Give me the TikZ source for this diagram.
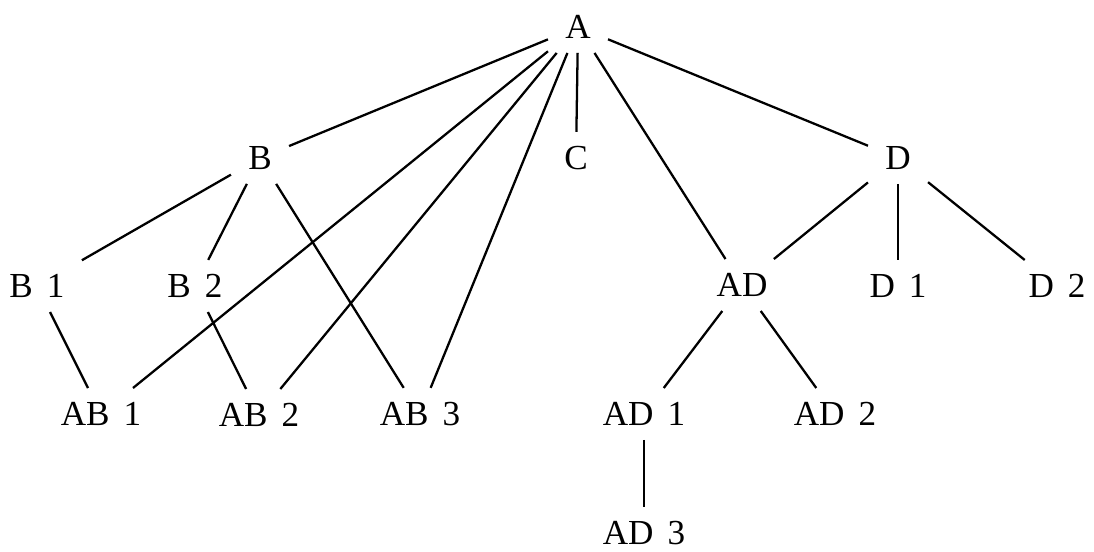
\documentclass[tikz,border=0pt]{standalone}
\usepackage{fontspec}
\setmainfont{Liberation Serif}
\usepackage{tikz}
\newcommand{\labelgap}{\hspace{0.4em}}

\begin{document}
\begin{tikzpicture}[
    x=0.02cm, y=-0.02cm,
    entry/.style={rectangle, inner xsep=0.34cm, inner ysep=0.28cm, font=\fontsize{20}{24}\selectfont},
    link/.style={line width=1.3pt}
]
\useasboundingbox (0,0) rectangle (1094,551);

% Nodes
\node (A) [entry] at (578,27) {A};

\node (B) [entry] at (260,158) {B};
\node (C) [entry] at (576,158) {C};
\node (D) [entry] at (898,158) {D};

\node (B1) [entry] at (37,286) {B\labelgap 1};
\node (B2) [entry] at (195,286) {B\labelgap 2};
\node (AD) [entry] at (742,285) {AD};
\node (D1) [entry] at (898,286) {D\labelgap 1};
\node (D2) [entry] at (1057,286) {D\labelgap 2};

\node (AB1) [entry] at (101,414) {AB\labelgap 1};
\node (AB2) [entry] at (259,415) {AB\labelgap 2};
\node (AB3) [entry] at (420,414) {AB\labelgap 3};
\node (AD1) [entry] at (644,414) {AD\labelgap 1};
\node (AD2) [entry] at (835,414) {AD\labelgap 2};

\node (AD3) [entry] at (644,533) {AD\labelgap 3};

% Lines
\draw [link] (A) -- (B);
\draw [link] (A) -- (AB1);
\draw [link] (A) -- (AB2);
\draw [link] (A) -- (AB3);
\draw [link] (A) -- (C);
\draw [link] (A) -- (AD);
\draw [link] (A) -- (D);

\draw [link] (B) -- (B1);
\draw [link] (B) -- (B2);
\draw [link] (B) -- (AB3);
\draw [link] (B1) -- (AB1);
\draw [link] (B2) -- (AB2);

\draw [link] (D) -- (AD);
\draw [link] (D) -- (D1);
\draw [link] (D) -- (D2);

\draw [link] (AD) -- (AD1);
\draw [link] (AD) -- (AD2);
\draw [link] (AD1) -- (AD3);

\end{tikzpicture}
\end{document}
